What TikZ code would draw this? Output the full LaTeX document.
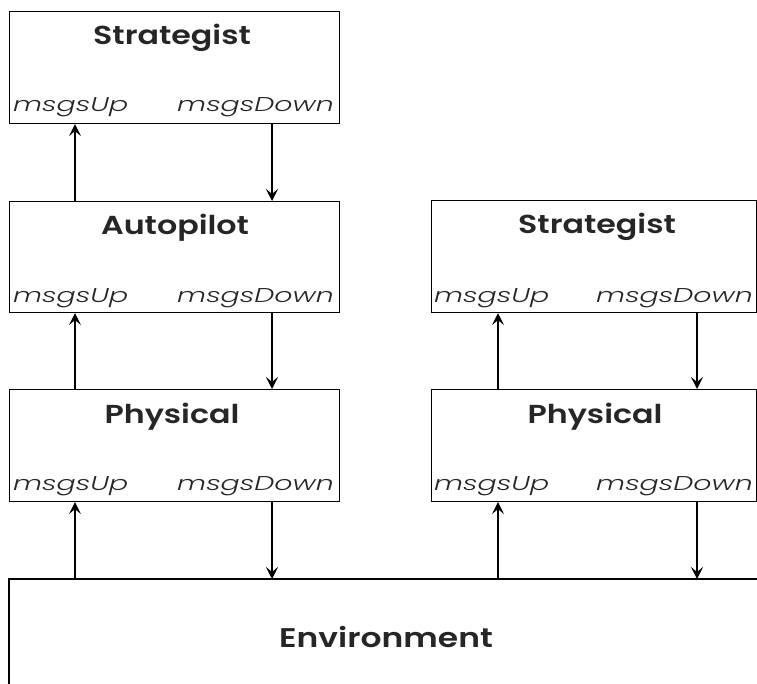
\documentclass[tikz,border=0pt]{standalone}
\usepackage{fontspec}
\setmainfont{Poppins}
\newfontfamily\ttlfont[FakeStretch=1.22]{Poppins SemiBold}
\newfontfamily\lblfont[FakeStretch=1.42]{Poppins Light}
\usetikzlibrary{arrows.meta}
\begin{document}
\begin{tikzpicture}[x=1pt,y=-1pt,
  box/.style={draw, line width=1.1pt, rectangle, inner sep=0pt},
  ttl/.style={font=\ttlfont\fontsize{26}{28}\selectfont, text=black!85, inner sep=0pt, anchor=base},
  lbl/.style={font=\lblfont\fontsize{20}{22}\selectfont\itshape, text=black!85, inner sep=0pt},
  arr/.style={line width=1.1pt, -{Stealth[length=12pt,width=12pt,inset=5pt]}}]
\useasboundingbox (0,0) rectangle (757,684);
% boxes (corner-to-corner)
\node[box, minimum width=330pt, minimum height=112pt, anchor=north west] (stratL) at (9,11) {};
\node[box, minimum width=330pt, minimum height=111pt, anchor=north west] (autoL) at (9,201) {};
\node[box, minimum width=330pt, minimum height=112pt, anchor=north west] (physL) at (9,389) {};
\node[box, minimum width=325pt, minimum height=112pt, anchor=north west] (stratR) at (431,200) {};
\node[box, minimum width=325pt, minimum height=112pt, anchor=north west] (physR) at (431,389) {};
% environment
\coordinate (envTL) at (9,579);
\coordinate (envTR) at (757,579);
\coordinate (envBL) at (9,684);
\draw[line width=1.1pt] (envBL) -- (envTL) -- (envTR);
\node[ttl, font=\ttlfont\fontsize{27}{29}\selectfont] (env) at (386,647) {Environment};
% titles
\node[ttl] (tStratL) at (172,45) {Strategist};
\node[ttl] (tAutoL) at (175,235) {Autopilot};
\node[ttl] (tPhysL) at (172,423) {Physical};
\node[ttl] (tStratR) at (597,234) {Strategist};
\node[ttl] (tPhysR) at (595,423) {Physical};
% labels
\node[lbl, anchor=base west] (uStratL) at (13,112) {msgsUp};
\node[lbl, anchor=base east] (dStratL) at (334,112) {msgsDown};
\node[lbl, anchor=base west] (uAutoL) at (13,302) {msgsUp};
\node[lbl, anchor=base east] (dAutoL) at (334,302) {msgsDown};
\node[lbl, anchor=base west] (uPhysL) at (13,490) {msgsUp};
\node[lbl, anchor=base east] (dPhysL) at (334,490) {msgsDown};
\node[lbl, anchor=base west] (uStratR) at (434,302) {msgsUp};
\node[lbl, anchor=base east] (dStratR) at (753,302) {msgsDown};
\node[lbl, anchor=base west] (uPhysR) at (434,490) {msgsUp};
\node[lbl, anchor=base east] (dPhysR) at (753,490) {msgsDown};
% arrow x positions
\coordinate (xL1) at (75,0);
\coordinate (xL2) at (272,0);
\coordinate (xR1) at (498,0);
\coordinate (xR2) at (697,0);
% arrows left column
\draw[arr] (autoL.north -| xL1) -- (stratL.south -| xL1);
\draw[arr] (stratL.south -| xL2) -- (autoL.north -| xL2);
\draw[arr] (physL.north -| xL1) -- (autoL.south -| xL1);
\draw[arr] (autoL.south -| xL2) -- (physL.north -| xL2);
\draw[arr] (envTL -| xL1) -- (physL.south -| xL1);
\draw[arr] (physL.south -| xL2) -- (envTL -| xL2);
% arrows right column
\draw[arr] (physR.north -| xR1) -- (stratR.south -| xR1);
\draw[arr] (stratR.south -| xR2) -- (physR.north -| xR2);
\draw[arr] (envTL -| xR1) -- (physR.south -| xR1);
\draw[arr] (physR.south -| xR2) -- (envTL -| xR2);
\end{tikzpicture}
\end{document}
